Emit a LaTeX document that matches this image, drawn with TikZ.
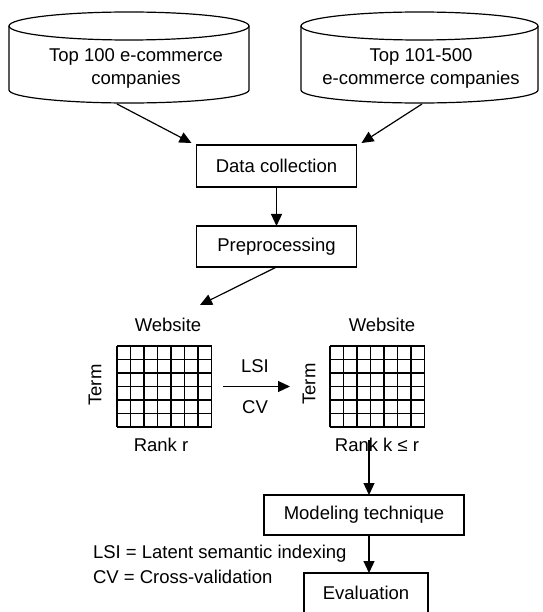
\documentclass[tikz,border=0pt]{standalone}
\usepackage{fontspec}
\setmainfont{Liberation Sans}
\usetikzlibrary{arrows.meta,calc}
\begin{document}
\begin{tikzpicture}[x=1pt,y=1pt,
  every node/.style={font=\fontsize{18.5}{23}\selectfont, inner sep=0pt, outer sep=0pt},
  line/.style={line width=1.2pt},
  arr/.style={line width=1.2pt,-{Triangle[length=12pt,width=11pt]}},
  procbox/.style={draw, line width=1.2pt, minimum height=41pt},
  gridbox/.style={minimum width=94.5pt, minimum height=81pt},
  gridline/.style={line width=1.5pt}
]
\useasboundingbox (0,0) rectangle (542,-612);
\clip (0,0) rectangle (542,-612);

% data sources (cylinders)
\draw[line] (9,-26) -- (9,-90) arc[start angle=180,end angle=360,x radius=120pt,y radius=13pt] -- (249,-26);
\draw[line] (129,-26) ellipse[x radius=120pt,y radius=14pt];
\node[align=center] (db1) at (136,-68.5) {Top 100 e-commerce\\companies};

\draw[line] (301,-26) -- (301,-90) arc[start angle=180,end angle=360,x radius=118.5pt,y radius=13pt] -- (538,-26);
\draw[line] (419.5,-26) ellipse[x radius=118.5pt,y radius=14pt];
\node[align=center] (db2) at (421,-68.5) {Top 101-500\\e-commerce companies};

\coordinate (db1out) at (117,-104);
\coordinate (db2out) at (422,-104);

% processing steps
\node[procbox, minimum width=160pt, minimum height=42pt] (dc) at (276.5,-166) {Data collection};
\node[procbox, minimum width=160pt] (prep) at (276.5,-246.5) {Preprocessing};

\draw[arr] (db1out) -- ($(dc.north west)+(-5,2)$);
\draw[arr] (db2out) -- ($(dc.north east)+(5,2)$);
\draw[arr] (dc.south) -- (prep.north);

\coordinate (matin) at (200,-305);
\draw[arr] (prep.south) -- (matin);

% term-by-website matrices
\node[gridbox] (m1) at (164.25,-386.5) {};
\node[gridbox] (m2) at (377.25,-386.5) {};
\foreach \m in {m1,m2}{
  \foreach \i in {0,...,7}
    \draw[gridline] ($(\m.south west)+(\i*13.5,0)$) -- ++(0,81);
  \foreach \j in {0,...,6}
    \draw[gridline] ($(\m.south west)+(0,\j*13.5)$) -- ++(94.5,0);
}

\node (web1) at (168,-325) {Website};
\node[rotate=90] (term1) at (95,-385) {Term};
\node (rank1) at (161,-445) {Rank r};

\node (web2) at (382,-325) {Website};
\node[rotate=90] (term2) at (309,-384) {Term};
\node (rank2) at (377,-445) {Rank k ≤ r};

\draw[arr] ($(m1.east)+(11.5,0)$) -- ($(m2.west)+(-40,0)$);
\node (lsi) at (255,-366) {LSI};
\node (cv) at (255,-407) {CV};

% modeling and evaluation
\node[procbox, minimum width=200pt, minimum height=40pt] (mod) at (364,-515) {Modeling technique};
\node[procbox, minimum width=124pt, minimum height=40pt] (eval) at (366,-593) {Evaluation};

\coordinate (rankout) at (369,-440);
\draw[arr] (rankout) -- (rankout |- mod.north);
\draw[arr] (rankout |- mod.south) -- (rankout |- eval.north);

% legend
\node[anchor=west] (leg1) at (93,-554) {LSI = Latent semantic indexing};
\node[anchor=west] (leg2) at (93,-577) {CV = Cross-validation};
\end{tikzpicture}
\end{document}
